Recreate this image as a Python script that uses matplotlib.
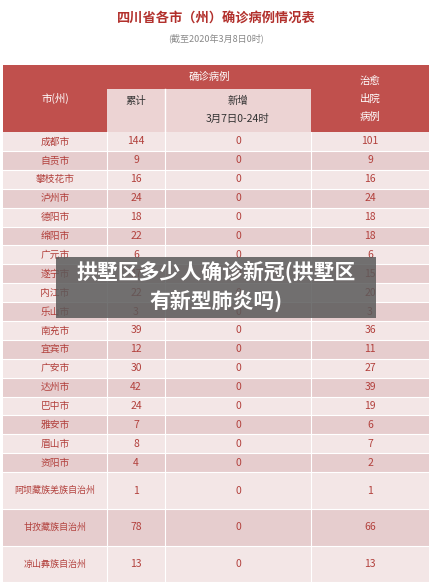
import matplotlib
matplotlib.use("Agg")
import matplotlib.pyplot as plt
from matplotlib.patches import Rectangle

plt.rcParams['font.family'] = ['Noto Sans CJK SC', 'DejaVu Sans']

cities = ["成都市","自贡市","攀枝花市","泸州市","德阳市","绵阳市","广元市","遂宁市","内江市","乐山市",
          "南充市","宜宾市","广安市","达州市","巴中市","雅安市","眉山市","资阳市",
          "阿坝藏族羌族自治州","甘孜藏族自治州","凉山彝族自治州"]
total = [144,9,16,24,18,22,6,17,22,3,39,12,30,42,24,7,8,4,1,78,13]
new = [0]*21
cured = [101,9,16,24,18,18,6,15,20,3,36,11,27,39,19,6,7,2,1,66,13]

W, H = 433, 582
fig = plt.figure(figsize=(W/100, H/100), dpi=100)
ax = fig.add_axes([0, 0, 1, 1])
ax.set_xlim(0, W); ax.set_ylim(H, 0); ax.axis('off')
fig.patch.set_facecolor('white')

red = '#c0504d'; txt = '#b2403c'
ax.text(216, 18, "四川省各市（州）确诊病例情况表", ha='center', va='center', fontsize=9.5,
        color='#b2302c', fontweight='bold')
ax.text(216, 38, "(截至2020年3月8日0时)", ha='center', va='center', fontsize=6.5, color='#888888')

cols = [3, 107, 165, 311, 429]
ax.add_patch(Rectangle((3, 65), 426, 67, color=red, lw=0))
ax.add_patch(Rectangle((107, 89), 204, 43, color='#ecd3d3', lw=0))
ax.plot([165, 165], [89, 132], color='white', lw=1)
ax.text(55, 98, "市(州)", ha='center', va='center', fontsize=7.5, color='white')
ax.text(209, 77, "确诊病例", ha='center', va='center', fontsize=7.5, color='white')
for i, t in enumerate(["治愈", "出院", "病例"]):
    ax.text(370, 81 + i*18, t, ha='center', va='center', fontsize=7.5, color='white')
ax.text(136, 101, "累计", ha='center', va='center', fontsize=7.5, color='#333333')
ax.text(238, 101, "新增", ha='center', va='center', fontsize=7.5, color='#333333')
ax.text(238, 119, "3月7日0-24时", ha='center', va='center', fontsize=7.5, color='#333333')

y = 132
for i, c in enumerate(cities):
    h = 18.9 if i < 18 else 36.7
    col = '#f3e6e6' if i % 2 == 0 else '#e6cdce'
    ax.add_patch(Rectangle((3, y), 426, h, color=col, lw=0))
    cy = y + h/2
    ax.text(55, cy, c, ha='center', va='center', fontsize=6.5 if i >= 18 else 7, color=txt)
    ax.text(136, cy, str(total[i]), ha='center', va='center', fontsize=7.5, color=txt)
    ax.text(238, cy, str(new[i]), ha='center', va='center', fontsize=7.5, color=txt)
    ax.text(370, cy, str(cured[i]), ha='center', va='center', fontsize=7.5, color=txt)
    ax.plot([3, 429], [y+h, y+h], color='white', lw=0.8)
    y += h
for x in cols[1:-1]:
    ax.plot([x, x], [132, H], color='white', lw=0.8)

# overlay
ax.add_patch(Rectangle((56, 257), 320, 61, color='#5a5a5a', alpha=0.85, lw=0, zorder=10))
ax.text(216, 272, "拱墅区多少人确诊新冠(拱墅区", ha='center', va='center', fontsize=15,
        color='white', fontweight='bold', zorder=11)
ax.text(216, 301, "有新型肺炎吗)", ha='center', va='center', fontsize=15,
        color='white', fontweight='bold', zorder=11)

fig.savefig("out.png", dpi=100)
